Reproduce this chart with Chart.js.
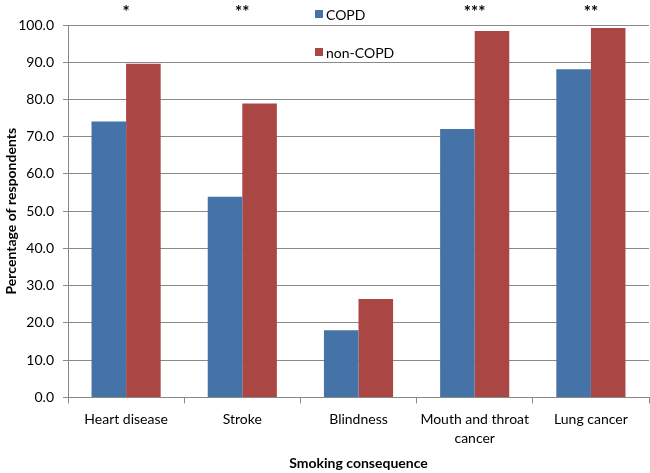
<!DOCTYPE html>
<html><head><meta charset="utf-8">
<script src="https://cdn.jsdelivr.net/npm/chart.js@4/dist/chart.umd.min.js"></script>
<style>html,body{margin:0;padding:0;background:#fff}#wrap{width:650px;height:473px}</style>
</head><body><div id="wrap"><canvas id="c" width="650" height="473"></canvas></div>
<script>
const categories = ['Heart disease', 'Stroke', 'Blindness', ['Mouth and throat', 'cancer'], 'Lung cancer'];
const copd = [74.1, 53.9, 18.0, 72.1, 88.1];
const nonCopd = [89.6, 78.9, 26.4, 98.4, 99.2];
const significance = ['*', '**', '', '***', '**'];
const seriesNames = ['COPD', 'non-COPD'];
const FONT = 'Lato, "Open Sans", sans-serif';

const overlay = {
  id: 'overlay',
  afterDraw(chart) {
    const ctx = chart.ctx, x = chart.scales.x;
    ctx.save();
    ctx.fillStyle = '#000';
    ctx.font = 'bold 17px ' + FONT;
    ctx.textAlign = 'center';
    ctx.textBaseline = 'middle';
    significance.forEach((s, i) => { if (s) ctx.fillText(s, x.getPixelForValue(i), 13); });
    // legend
    ctx.font = '14px ' + FONT;
    ctx.textAlign = 'left';
    chart.data.datasets.forEach((ds, i) => {
      const y = 14 + i * 38;
      ctx.fillStyle = ds.backgroundColor;
      ctx.fillRect(315, y - 4, 8, 8);
      ctx.fillStyle = '#000';
      ctx.fillText(ds.label, 326, y + 1);
    });
    ctx.restore();
  }
};

new Chart(document.getElementById('c'), {
  type: 'bar',
  data: {
    labels: categories,
    datasets: [
      { label: seriesNames[0], data: copd, backgroundColor: '#4572A7' },
      { label: seriesNames[1], data: nonCopd, backgroundColor: '#AA4643' }
    ]
  },
  options: {
    responsive: false,
    animation: false,
    layout: { padding: { top: 25, right: 1, left: 3, bottom: 1 } },
    plugins: { legend: { display: false }, tooltip: { enabled: false } },
    datasets: { bar: { categoryPercentage: 0.595, barPercentage: 1.0 } },
    scales: {
      x: {
        grid: { display: true, offset: true, drawOnChartArea: false, color: '#888', tickLength: 6 },
        border: { color: '#888' },
        ticks: { color: '#000', font: { family: FONT, size: 14, lineHeight: 1.35 }, maxRotation: 0, autoSkip: false, padding: 7 },
        title: { display: true, text: 'Smoking consequence', color: '#000', font: { family: FONT, size: 14, weight: 'bold' }, padding: { top: 0, bottom: 0 } }
      },
      y: {
        min: 0, max: 100,
        afterFit: s => { s.width = 65; },
        ticks: { stepSize: 10, color: '#000', font: { family: FONT, size: 14 }, padding: 9, callback: v => v.toFixed(1) },
        grid: { color: '#8a8a8a', tickLength: 5 },
        border: { color: '#888' },
        title: { display: true, text: 'Percentage of respondents', color: '#000', font: { family: FONT, size: 14, weight: 'bold' }, padding: { top: 0, bottom: 0 } }
      }
    }
  },
  plugins: [overlay]
});
</script></body></html>
